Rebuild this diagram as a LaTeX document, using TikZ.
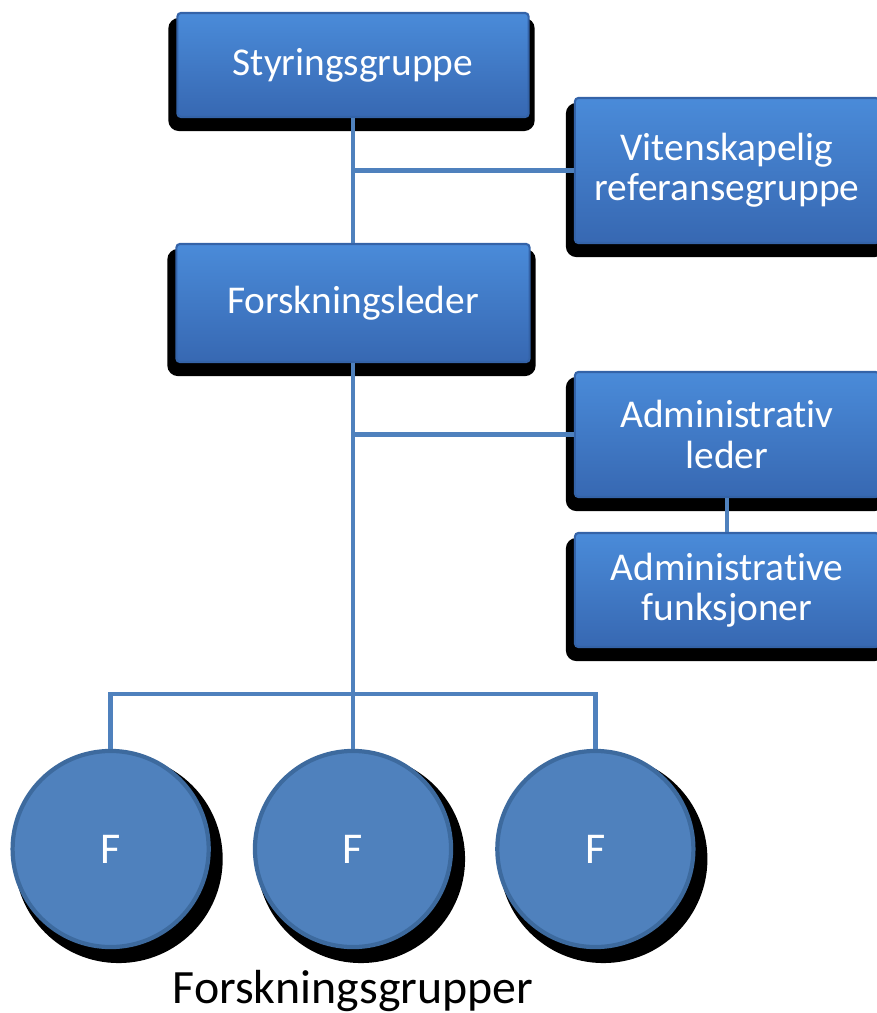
\documentclass[tikz,border=0pt]{standalone}
\usepackage{fontspec}
\setmainfont[Ligatures=NoCommon]{Carlito}
\usetikzlibrary{calc, backgrounds, positioning}
\definecolor{boxtop}{HTML}{4A8BD9}
\definecolor{boxbot}{HTML}{3768B2}
\definecolor{boxedge}{HTML}{3463A8}
\definecolor{grpfill}{HTML}{4F81BD}
\definecolor{grpedge}{HTML}{3D6A9E}
\definecolor{linkblue}{HTML}{4F81BD}

\begin{document}
\begin{tikzpicture}[x=0.01cm, y=-0.01cm,
		unit/.style={rectangle, rounded corners=1pt, top color=boxtop, bottom color=boxbot, draw=boxedge, line width=.6pt, text=white, align=center, inner sep=0pt, minimum width=3.04cm, font=\fontsize{11.2}{11.4}\selectfont},
		group/.style={circle, fill=grpfill, draw=grpedge, line width=1.2pt, minimum size=1.96cm, inner sep=0pt, text=white, font=\fontsize{12.5}{13}\selectfont},
		link/.style={draw=linkblue, line width=1.3pt}]
		\useasboundingbox (0,0) rectangle (877,1013);
		\node (sty) [unit, minimum width=3.51cm, minimum height=1.04cm] at (353,65) {Styringsgruppe};
		\node (vit) [unit, minimum height=1.45cm] at (727,170.5) {Vitenskapelig\\referansegruppe};
		\node (leder) [unit, minimum width=3.53cm, minimum height=1.18cm] at (353,303) {Forskningsleder};
		\node (adm) [unit, minimum height=1.25cm] at (727,434.5) {Administrativ\\leder};
		\node (fun) [unit, minimum height=1.14cm] at (727,590) {Administrative\\funksjoner};
		\node (g2) [group] at (353,849) {F};
		\node (g1) [group, left=0.42cm of g2] {F};
		\node (g3) [group, right=0.42cm of g2] {F};
		\node (grupper) [anchor=base, font=\fontsize{13.6}{14}\selectfont] at (353,1003) {Forskningsgrupper};
		\coordinate (bus) at (353,694);
		\draw[link] (sty) -- (leder);
		\draw[link] (sty |- vit.west) -- (vit.west);
		\draw[link] (leder) -- (g2);
		\draw[link] (leder |- adm.west) -- (adm.west);
		\draw[link] (adm) -- (fun);
		\draw[link] (g1.north) |- (bus) -| (g3.north);
		\begin{scope}[on background layer]
		\foreach \b in {sty,vit,leder,adm,fun}
		    \fill[black, rounded corners=3pt] ($(\b.north west)+(-8,6)$) rectangle ($(\b.south east)+(5,13)$);
		\foreach \g in {g1,g2,g3}
		    \fill[black] ($(\g)+(8,10)$) circle (1.04cm);
		\end{scope}
\end{tikzpicture}
\end{document}
